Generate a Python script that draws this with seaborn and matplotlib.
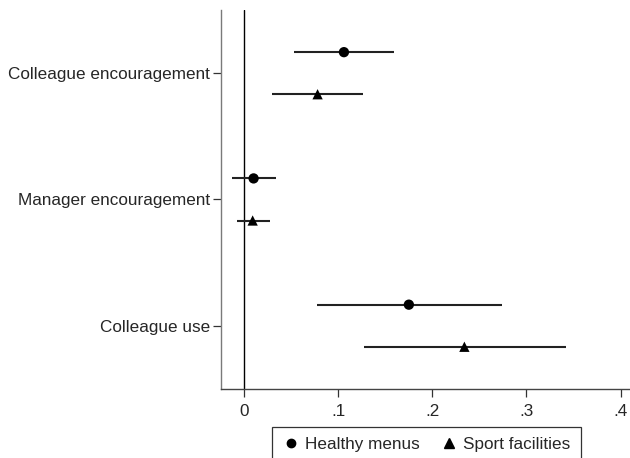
import numpy as np
import pandas as pd
import matplotlib
matplotlib.use("Agg")
import matplotlib.pyplot as plt
import seaborn as sns

# ==== data ====
categories = ["Colleague encouragement", "Manager encouragement", "Colleague use"]
series = ["Healthy menus", "Sport facilities"]

menus_est = [0.106, 0.010, 0.175]
menus_lo = [0.053, -0.013, 0.077]
menus_hi = [0.159, 0.034, 0.274]

sport_est = [0.078, 0.009, 0.234]
sport_lo = [0.030, -0.008, 0.127]
sport_hi = [0.126, 0.027, 0.342]

x_ticks = [0, 0.1, 0.2, 0.3, 0.4]
x_ticklabels = ["0", ".1", ".2", ".3", ".4"]

# ==== long table ====
offsets = {"Healthy menus": -1 / 6, "Sport facilities": 1 / 6}
rows = []
for s, est, lo, hi in [(series[0], menus_est, menus_lo, menus_hi),
                       (series[1], sport_est, sport_lo, sport_hi)]:
    for i, c in enumerate(categories):
        rows.append({"cat": c, "series": s, "est": est[i], "lo": lo[i],
                     "hi": hi[i], "ypos": i + offsets[s]})
df = pd.DataFrame(rows)

sns.set_style("white")
plt.rcParams["font.family"] = ["Liberation Sans", "DejaVu Sans"]

fig = plt.figure(figsize=(6.3, 4.58), dpi=100)
ax = fig.add_axes([0.351, 0.151, 0.649, 0.827])

ax.hlines(df["ypos"], df["lo"], df["hi"], color="#222222", lw=1.5, zorder=2)
ax.axvline(0, color="black", lw=1.0, zorder=1)
sns.scatterplot(data=df, x="est", y="ypos", style="series",
                markers={"Healthy menus": "o", "Sport facilities": "^"},
                color="black", s=55, edgecolor="black", linewidth=0,
                zorder=3, ax=ax, legend=False)

ax.set_ylim(2.5, -0.5)
ax.set_xlim(-0.0245, 0.41)
ax.set_yticks(range(len(categories)))
ax.set_yticklabels(categories)
ax.set_xticks(x_ticks)
ax.set_xticklabels(x_ticklabels)
ax.set_xlabel("")
ax.set_ylabel("")

for side in ["top", "right"]:
    ax.spines[side].set_visible(False)
ax.spines["left"].set_color("#7a7a7a")
ax.spines["bottom"].set_color("#444444")
ax.spines["left"].set_linewidth(1.0)
ax.spines["bottom"].set_linewidth(1.0)
ax.tick_params(axis="both", which="major", length=6, width=0.9,
               labelsize=12.3, color="#333333", labelcolor="#262626",
               left=True, bottom=True)
ax.tick_params(axis="x", pad=5)
ax.tick_params(axis="y", pad=2)

handles = [
    plt.Line2D([], [], marker="o", color="black", ls="none", markersize=6),
    plt.Line2D([], [], marker="^", color="black", ls="none", markersize=6.5),
]
leg = fig.legend(handles, series, loc="upper center",
                 bbox_to_anchor=(0.677, 0.068), ncol=2, frameon=True,
                 fancybox=False, edgecolor="black", fontsize=12.3,
                 handletextpad=0.3, columnspacing=1.25, handlelength=1.0,
                 borderpad=0.6, borderaxespad=0)
leg.get_frame().set_linewidth(0.9)
for t in leg.get_texts():
    t.set_color("#262626")

fig.savefig("out.png", dpi=100)
